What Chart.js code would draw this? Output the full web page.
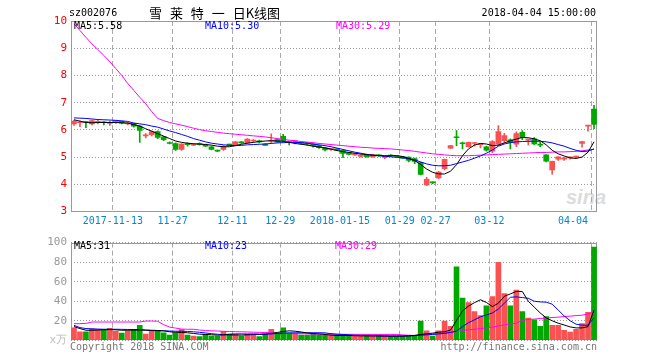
<!DOCTYPE html>
<html><head><meta charset="utf-8">
<script src="https://cdn.jsdelivr.net/npm/chart.js@4.4.1/dist/chart.umd.min.js"></script>
<style>
html,body{margin:0;padding:0;background:#fff;}
#wrap{position:relative;width:660px;height:360px;overflow:hidden;font-family:"DejaVu Sans Mono",monospace;font-size:10px;}
canvas{position:absolute;left:0;}
.t{position:absolute;white-space:pre;line-height:12px;font-size:10px;font-family:"DejaVu Sans Mono",monospace;}
</style></head><body>
<div id="wrap">
<div class="t" style="left:566px;top:186px;font-family:'Liberation Sans',Arial;font-weight:bold;font-style:italic;font-size:20px;line-height:22px;color:#dcdcdc;">sina</div>
<canvas id="main" width="660" height="232" style="top:0"></canvas>
<canvas id="vol" width="660" height="128" style="top:232px"></canvas>
<div class="t" style="left:69px;top:7px;color:#000">sz002076</div>
<div class="t" style="left:149px;top:4px;font-family:'Noto Sans CJK SC';font-size:13px;line-height:18px;word-spacing:5px;color:#000">雪 莱 特 一 日K线图</div>
<div class="t" style="right:64px;top:7px;color:#000">2018-04-04 15:00:00</div>
<div class="t" id="l1" style="left:74px;top:20px;color:#000"></div>
<div class="t" id="l2" style="left:205px;top:20px;color:#0000ff"></div>
<div class="t" id="l3" style="left:336px;top:20px;color:#ff00ff"></div>
<div class="t" id="v1" style="left:74px;top:240px;color:#000"></div>
<div class="t" id="v2" style="left:205px;top:240px;color:#0000ff"></div>
<div class="t" id="v3" style="left:335px;top:240px;color:#ff00ff"></div>
<div class="t" style="left:70px;top:341px;color:#777">Copyright 2018 SINA.COM</div>
<div class="t" style="right:63px;top:341px;color:#777">http://finance.sina.com.cn</div>
</div>
<script>
const dates = ['2017-11-02','11-03','11-06','11-07','11-08','11-09','11-10','11-13','11-14','11-15',
'11-16','11-17','11-20','11-21','11-22','11-23','11-24','11-27','11-28','11-29',
'11-30','12-01','12-04','12-05','12-06','12-07','12-08','12-11','12-12','12-13',
'12-14','12-15','12-26','12-27','12-28','12-29','2018-01-02','01-03','01-04','01-05',
'01-08','01-09','01-10','01-11','01-12','01-15','01-16','01-17','01-18','01-19',
'01-22','01-23','01-24','01-25','01-26','01-29','01-30','01-31','02-01','02-02',
'02-05','02-27','02-28','03-01','03-02','03-05','03-06','03-07','03-08','03-09',
'03-12','03-13','03-14','03-15','03-16','03-19','03-20','03-21','03-22','03-23',
'03-26','03-27','03-28','03-29','03-30','04-02','04-03','04-04'];

const open = [6.22,6.26,6.30,6.22,6.28,6.28,6.24,6.30,6.31,6.22, 6.24,6.14,5.78,5.82,5.94,5.74,5.52,5.50,5.28,5.50,
5.44,5.50,5.46,5.38,5.24,5.28,5.46,5.46,5.56,5.52, 5.59,5.60,5.48,5.58,5.64,5.76,5.55,5.56,5.54,5.52,
5.48,5.42,5.34,5.28,5.30,5.25,5.16,5.08,5.02,5.06, 5.01,5.08,4.99,5.07,5.04,5.02,5.00,4.94,4.80,3.98,
4.08,4.23,4.57,5.33,5.74,5.52,5.38,5.50,5.46,5.38, 5.22,5.48,5.60,5.63,5.47,5.91,5.62,5.67,5.47,5.08,
4.53,4.92,4.92,4.97,5.00,5.50,6.14,6.76];
const close = [6.32,6.28,6.27,6.34,6.30,6.26,6.28,6.31,6.25,6.26, 6.14,5.98,5.80,5.94,5.72,5.64,5.50,5.28,5.48,5.46,
5.48,5.46,5.40,5.28,5.22,5.38,5.44,5.56,5.52,5.66, 5.61,5.56,5.43,5.60,5.56,5.60,5.53,5.59,5.50,5.47,
5.42,5.35,5.26,5.30,5.25,5.13,5.10,5.12,5.07,5.01, 5.08,5.04,5.02,5.04,5.02,4.96,4.88,4.84,4.36,4.18,
4.05,4.45,4.92,5.42,5.71,5.49,5.54,5.52,5.48,5.25, 5.57,5.94,5.79,5.53,5.86,5.71,5.64,5.48,5.44,4.85,
4.84,5.01,4.97,4.99,5.02,5.57,6.16,6.20];
const high = [6.36,6.32,6.31,6.36,6.36,6.30,6.32,6.34,6.32,6.28, 6.25,6.16,5.86,5.96,5.96,5.76,5.56,5.52,5.50,5.52,
5.50,5.52,5.48,5.40,5.26,5.42,5.48,5.58,5.58,5.68, 5.64,5.62,5.50,5.85,5.66,5.84,5.58,5.60,5.55,5.53,
5.49,5.43,5.36,5.31,5.31,5.26,5.17,5.13,5.08,5.07, 5.09,5.09,5.03,5.09,5.05,5.03,5.01,4.96,4.82,4.26,
4.09,4.48,4.93,5.43,5.97,5.55,5.55,5.53,5.49,5.40, 5.61,6.16,5.87,5.67,5.93,5.97,5.66,5.72,5.54,5.09,
4.85,5.02,4.99,5.00,5.04,5.58,6.16,6.90];
const low = [6.16,6.12,6.08,6.18,6.22,6.18,6.16,6.24,6.22,6.18, 6.10,5.54,5.70,5.78,5.68,5.60,5.48,5.24,5.24,5.40,
5.42,5.44,5.38,5.26,5.20,5.24,5.42,5.44,5.50,5.50, 5.56,5.52,5.44,5.52,5.54,5.56,5.45,5.48,5.48,5.45,
5.36,5.32,5.23,5.24,5.24,4.98,5.08,5.06,5.00,5.00, 5.00,5.02,4.94,5.02,5.00,4.95,4.82,4.76,4.34,3.95,
4.02,4.20,4.53,5.32,5.42,5.30,5.36,5.40,5.34,5.22, 5.16,5.42,5.52,5.30,5.38,5.64,5.45,5.46,5.38,4.82,
4.37,4.88,4.88,4.92,4.96,5.36,5.95,6.04];

const ma5 = [6.37,6.32,6.27,6.26,6.27,6.27,6.27,6.27,6.26,6.25, 6.19,6.14,6.04,5.95,5.86,5.77,5.68,5.59,5.54,5.51,
5.49,5.48,5.46,5.44,5.40,5.38,5.38,5.42,5.47,5.51, 5.54,5.57,5.59,5.60,5.59,5.58,5.54,5.50,5.47,5.44,
5.40,5.37,5.34,5.29,5.24,5.20,5.17,5.14,5.11,5.09, 5.07,5.06,5.05,5.05,5.05,5.02,4.95,4.87,4.73,4.56,
4.44,4.38,4.38,4.48,4.72,5.05,5.30,5.44,5.50,5.48, 5.42,5.44,5.52,5.60,5.66,5.72,5.71,5.67,5.60,5.45,
5.25,5.12,5.04,4.97,4.95,5.00,5.18,5.56];
const ma10 = [6.44,6.43,6.42,6.40,6.38,6.37,6.36,6.35,6.33,6.31, 6.25,6.22,6.19,6.14,6.10,6.03,5.96,5.90,5.83,5.76,
5.68,5.62,5.56,5.51,5.48,5.45,5.43,5.42,5.43,5.45, 5.46,5.47,5.48,5.50,5.52,5.53,5.54,5.54,5.53,5.51,
5.48,5.45,5.42,5.38,5.33,5.28,5.23,5.18,5.14,5.10, 5.07,5.05,5.03,5.01,4.99,4.97,4.94,4.90,4.82,4.75,
4.70,4.68,4.68,4.70,4.76,4.82,4.88,4.96,5.04,5.14, 5.26,5.40,5.48,5.53,5.56,5.57,5.58,5.58,5.58,5.56,
5.52,5.46,5.40,5.32,5.25,5.20,5.22,5.30];
const ma30 = [9.90,9.65,9.40,9.16,8.95,8.73,8.50,8.25,8.00,7.70, 7.45,7.20,6.96,6.67,6.42,6.34,6.27,6.22,6.17,6.12,
6.06,6.01,5.97,5.94,5.91,5.88,5.86,5.84,5.82,5.80, 5.78,5.76,5.74,5.71,5.68,5.65,5.62,5.60,5.57,5.55,
5.53,5.50,5.48,5.46,5.44,5.42,5.40,5.38,5.36,5.35, 5.33,5.32,5.31,5.30,5.28,5.26,5.24,5.21,5.18,5.15,
5.12,5.10,5.08,5.06,5.05,5.05,5.05,5.06,5.07,5.08, 5.09,5.10,5.11,5.12,5.13,5.14,5.15,5.16,5.17,5.17,
5.18,5.19,5.19,5.20,5.21,5.23,5.26,5.29];

const volume = [12.7,8.7,8.7,11.7,11,10.3,12.3,9.3,7.3,9.7, 11.3,15.3,6.3,9.7,9.7,7.7,5.3,8,11,5.3,
4.3,3.7,6,4.3,4.3,9.3,6,6,4.3,6.3, 6,3.7,6,11.3,6,12.7,7.7,7,5.3,5.3,
6,5.3,5,5,5,5,5,5,4.5,5, 4.5,5,5,4.3,4.3,4.3,4.3,4.3,19.7,9.7,
4.3,9.7,19.7,14.3,75.3,43.3,38.7,29.3,25.3,35.3, 44.7,79.7,47.7,35.3,51.3,29.3,22.7,21,14.3,24.3,
15.3,15.3,10.3,8.3,11.3,17,28.7,95.3];
const vma5 = [14,12,10.3,10.3,10.5,10.8,11,10.7,10.3,10.3, 10.5,10.5,10.3,10.3,10,9.7,8.7,8.3,8,7.7,
7,6.3,6,5.7,5.3,5.5,6.3,6.5,6.5,6.3, 6.5,6.3,6.5,7,8,9,9.7,9.3,8.5,7.5,
7,6.5,6,5.3,5,5,5,4.7,4.5,4.5, 4.5,4.5,4.3,4.3,4.3,4.3,4.5,5,6,6.7,
7.3,8.3,8.7,10.5,20.3,30,35,38.5,41.5,38.7, 34.5,38,45,47.5,50,50,40,34,28,23,
20,17.5,15.7,13.7,12.7,12.7,14,31];
const vma10 = [15.3,13,12,11.7,11.5,11.3,11.3,11.3,11.2,11.1, 11,11,10.5,10,9.8,9.7,9.5,9.3,9.3,9,
8.7,8.2,7.5,6.8,6.2,5.7,5.4,5.3,5.3,5.5, 5.8,6,6.2,6.5,7,7.3,7.5,7.7,7.7,7.7,
7.7,7.7,7.6,6.8,6.3,6,5.5,5.2,5,4.8, 4.7,4.5,4.4,4.3,4.3,4.4,4.6,4.8,5.2,5.6,
6,6.5,7,8,9.5,14,18,21,24,26, 28,32,38,44,44.5,43.7,43,40,39.3,39,
37,31,25,20,16.5,15.5,15.5,23];
const vma30 = [17,17,17.3,18.7,18.7,18.7,18.7,18.7,18.7,18.7, 18.7,18.7,19.7,19.7,19.5,16,13.5,12.5,11.5,11.3,
11.3,10.5,10,9.7,9.5,9.2,9,8.8,8.7,8.5, 8.3,8.1,8,7.8,7.3,7,7,6.8,6.7,6.6,
6.5,6.4,6.3,6.2,6.1,6.1,6.1,6.1,6,6, 6,6,6,6,6,5.5,5.2,5,5.5,6,
6.5,7,7.5,8.3,8.7,10,10.7,11.3,12,12.7, 13.5,14.7,15.7,16.7,17.5,20.5,21.3,21.7,22.3,22.7,
23.3,23.7,24.3,24.7,25.3,25.7,27,29];

const gridIndex = [7,17,27,35,45,55,61,70,87];
const tickLabels = ['2017-11-13','11-27','12-11','12-29','2018-01-15','01-29','02-27','03-12','04-04'];
const tickLabelIndex = [7,17,27,35,45,55,61,70,84];
const priceLegend = ['MA5:5.58','MA10:5.30','MA30:5.29'];
const volLegend = ['MA5:31','MA10:23','MA30:29'];

document.getElementById('l1').textContent = priceLegend[0];
document.getElementById('l2').textContent = priceLegend[1];
document.getElementById('l3').textContent = priceLegend[2];
document.getElementById('v1').textContent = volLegend[0];
document.getElementById('v2').textContent = volLegend[1];
document.getElementById('v3').textContent = volLegend[2];

const RED = '#fa5252', GREEN = '#00a800';
const colors = close.map((c, i) => c >= open[i] ? RED : GREEN);
const gridSet = new Set(gridIndex);
const labelAt = {};
tickLabelIndex.forEach((ix, k) => { labelAt[ix] = tickLabels[k]; });

const framePlugin = {
  id: 'frame',
  beforeDatasetsDraw(chart) {
    const { ctx, chartArea: a } = chart;
    ctx.save();
    ctx.strokeStyle = '#999';
    ctx.lineWidth = 1;
    const l = Math.round(a.left) + 0.5, t = Math.round(a.top) + 0.5;
    const r = Math.round(a.right) - 0.5, b = Math.round(a.bottom) - 0.5;
    ctx.strokeRect(l, t, r - l, b - t);
    ctx.restore();
  }
};

const monoFont = { family: 'DejaVu Sans Mono', size: 10 };
const lineDs = (data, color) => ({ type: 'line', data, borderColor: color, borderWidth: 1, pointRadius: 0, tension: 0, fill: false, order: 0 });
const xScale = (showTicks, h) => ({
  offset: true,
  grid: { offset: true, drawTicks: false, lineWidth: 1, color: c => gridSet.has(c.index) ? '#aaa' : 'rgba(0,0,0,0)' },
  border: { display: false, dash: [5, 3] },
  ticks: { display: showTicks, autoSkip: false, maxRotation: 0, minRotation: 0, padding: 4, labelOffset: -3,
           color: '#0a84d0', font: monoFont, callback: (v, i) => labelAt[i] || '' },
  afterFit: s => { s.height = h; }
});

new Chart(document.getElementById('main'), {
  type: 'bar',
  data: {
    labels: dates,
    datasets: [
      lineDs(ma5, '#000000'),
      lineDs(ma10, '#0000ff'),
      lineDs(ma30, '#ff00ff'),
      { data: open.map((o, i) => [o, close[i]]), backgroundColor: colors, barThickness: 5, grouped: false, minBarLength: 1, order: 1 },
      { data: low.map((l, i) => [l, high[i]]), backgroundColor: colors, barThickness: 1, grouped: false, order: 2 }
    ]
  },
  options: {
    responsive: false, animation: false, devicePixelRatio: 1,
    layout: { padding: { left: 0, right: 63, top: 21, bottom: 0 } },
    plugins: { legend: { display: false }, tooltip: { enabled: false } },
    scales: {
      x: xScale(true, 20.5),
      y: { min: 3, max: 10,
           ticks: { stepSize: 1, color: '#ff0000', padding: 4, font: { family: 'DejaVu Sans Mono', size: 11 } },
           grid: { color: '#999', drawTicks: false },
           border: { display: false, dash: [1, 2] },
           afterFit: s => { s.width = 71; } }
    }
  },
  plugins: [framePlugin]
});

new Chart(document.getElementById('vol'), {
  type: 'bar',
  data: {
    labels: dates,
    datasets: [
      lineDs(vma5, '#000000'),
      lineDs(vma10, '#0000ff'),
      lineDs(vma30, '#ff00ff'),
      { data: volume, backgroundColor: colors, barThickness: 5, order: 1 }
    ]
  },
  options: {
    responsive: false, animation: false, devicePixelRatio: 1,
    layout: { padding: { left: 0, right: 63, top: 9, bottom: 0 } },
    plugins: { legend: { display: false }, tooltip: { enabled: false } },
    scales: {
      x: xScale(false, 19.7),
      y: { min: 0, max: 100,
           ticks: { stepSize: 20, padding: 4, font: { family: 'DejaVu Sans Mono', size: 11 },
                    color: c => c.tick && c.tick.value === 0 ? '#bbb' : '#999',
                    callback: v => v === 0 ? 'x万' : v },
           grid: { color: '#999', drawTicks: false },
           border: { display: false, dash: [1, 2] },
           afterFit: s => { s.width = 71; } }
    }
  },
  plugins: [framePlugin]
});
</script>
</body></html>
